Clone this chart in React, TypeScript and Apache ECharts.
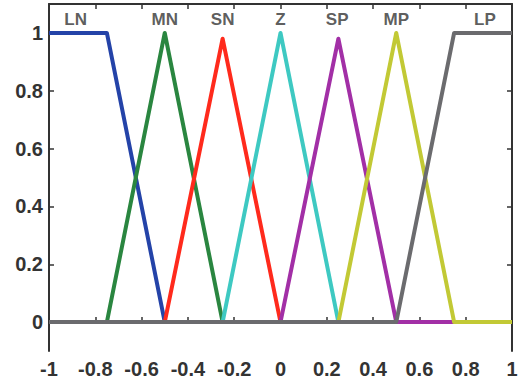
import React, { useEffect, useRef } from "react";
import * as echarts from "echarts";

const xTickStep = 0.2;
const yTickValues = [0, 0.2, 0.4, 0.6, 0.8, 1];

const seriesNames = ["LN", "MN", "SN", "Z", "SP", "MP", "LP"];
const seriesColors = ["#2443a8", "#2a8640", "#ff2a1c", "#3ec9c2", "#a22fa6", "#c2c935", "#6b6b6e"];

const LN = [[-1, 1], [-0.75, 1], [-0.5, 0], [1, 0]];
const MN = [[-1, 0], [-0.75, 0], [-0.5, 1], [-0.25, 0], [1, 0]];
const SN = [[-1, 0], [-0.5, 0], [-0.25, 0.98], [0, 0], [1, 0]];
const Z = [[-1, 0], [-0.25, 0], [0, 1], [0.25, 0], [1, 0]];
const SP = [[-1, 0], [0, 0], [0.25, 0.98], [0.5, 0], [1, 0]];
const MP = [[-1, 0], [0.25, 0], [0.5, 1], [0.75, 0], [1, 0]];
const LP = [[-1, 0], [0.5, 0], [0.75, 1], [1, 1]];
const seriesData = [LN, MN, SN, Z, SP, MP, LP];

const labelX = [-0.885, -0.5, -0.25, 0, 0.245, 0.5, 0.883];
const labelY = [1.047, 1.047, 1.047, 1.047, 1.047, 1.047, 1.047];

const axisColor = "#333333";
const font = "'Liberation Sans', Arial, sans-serif";

export default function App() {
  const ref = useRef<HTMLDivElement>(null);
  useEffect(() => {
    if (!ref.current) return;
    const chart = echarts.init(ref.current, null, { renderer: "svg" });
    const lineSeries = seriesNames.map((name, i) => ({
      name,
      type: "line",
      data: seriesData[i],
      showSymbol: false,
      symbol: "none",
      lineStyle: { color: seriesColors[i], width: 4, join: "round" },
      itemStyle: { color: seriesColors[i] },
      z: 2 + i,
    }));
    const labelSeries = {
      type: "scatter",
      symbolSize: 0,
      data: seriesNames.map((n, i) => ({ value: [labelX[i], labelY[i]], name: n })),
      label: {
        show: true,
        position: "inside",
        formatter: (p: any) => p.name,
        fontFamily: font,
        fontWeight: "bold",
        fontSize: 17,
        color: axisColor,
      },
      z: 20,
      silent: true,
    };
    chart.setOption({
      animation: false,
      backgroundColor: "#ffffff",
      grid: { left: 49, right: 10, top: 4, bottom: 32, containLabel: false },
      xAxis: [
        {
          type: "value",
          min: -1,
          max: 1,
          interval: xTickStep,
          position: "bottom",
          axisLine: { show: true, lineStyle: { color: axisColor, width: 2 } },
          axisTick: { show: true, inside: true, length: 5, lineStyle: { color: axisColor, width: 1.5 } },
          axisLabel: {
            margin: 8,
            fontFamily: font,
            fontWeight: "bold",
            fontSize: 20,
            color: axisColor,
          },
          splitLine: { show: false },
        },
        {
          type: "value",
          min: -1,
          max: 1,
          interval: xTickStep,
          position: "top",
          axisLine: { show: true, onZero: false, lineStyle: { color: axisColor, width: 2 } },
          axisTick: { show: true, inside: true, length: 5, lineStyle: { color: axisColor, width: 1.5 } },
          axisLabel: { show: false },
          splitLine: { show: false },
        },
      ],
      yAxis: [
        {
          type: "value",
          min: -0.1,
          max: 1.1,
          position: "left",
          axisLine: { show: true, onZero: false, lineStyle: { color: axisColor, width: 2 } },
          axisTick: {
            show: true,
            inside: true,
            length: 5,
            customValues: yTickValues,
            lineStyle: { color: axisColor, width: 1.5 },
          },
          axisLabel: {
            margin: 6,
            customValues: yTickValues,
            fontFamily: font,
            fontWeight: "bold",
            fontSize: 20,
            color: axisColor,
          },
          splitLine: { show: false },
        },
        {
          type: "value",
          min: -0.1,
          max: 1.1,
          position: "right",
          axisLine: { show: true, onZero: false, lineStyle: { color: axisColor, width: 2 } },
          axisTick: {
            show: true,
            inside: true,
            length: 5,
            customValues: yTickValues,
            lineStyle: { color: axisColor, width: 1.5 },
          },
          axisLabel: { show: false },
          splitLine: { show: false },
        },
      ],
      series: [...lineSeries, labelSeries],
    });
    return () => chart.dispose();
  }, []);
  return <div ref={ref} style={{ width: 522, height: 383, position: "absolute", left: 0, top: 0 }} />;
}
